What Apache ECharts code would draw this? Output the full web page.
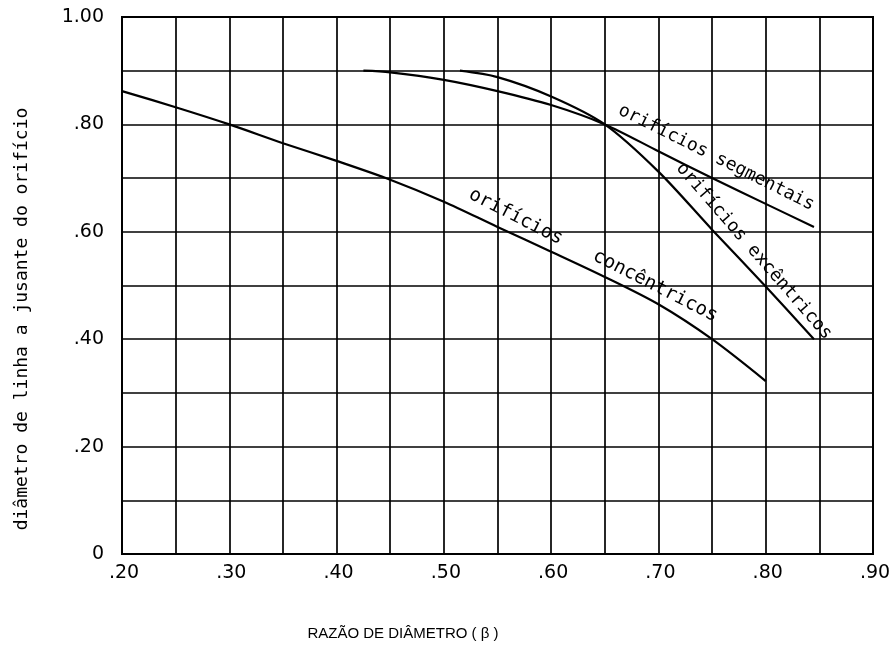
<!DOCTYPE html>
<html>
<head>
<meta charset="utf-8">
<script src="https://cdn.jsdelivr.net/npm/echarts@6/dist/echarts.min.js"></script>
<style>html,body{margin:0;padding:0;background:#fff;}#c{width:893px;height:648px;}</style>
</head>
<body>
<div id="c"></div>
<script>
// ---- data ----
const xTickLabels = ['.20', '.30', '.40', '.50', '.60', '.70', '.80', '.90'];
const yTickLabels = ['0', '.20', '.40', '.60', '.80', '1.00'];
const xAxisTitle = 'RAZÃO DE DIÂMETRO ( β )';
const yAxisTitle = 'diâmetro de linha a jusante do orifício';

const concentricBeta = [0.20, 0.25, 0.30, 0.35, 0.40, 0.45, 0.50, 0.55, 0.60, 0.65, 0.70, 0.75, 0.80];
const concentricVal  = [0.862, 0.832, 0.800, 0.765, 0.732, 0.697, 0.656, 0.609, 0.563, 0.516, 0.465, 0.400, 0.322];

const segmentalBeta = [0.425, 0.45, 0.50, 0.55, 0.60, 0.65, 0.70, 0.75, 0.80, 0.845];
const segmentalVal  = [0.900, 0.897, 0.883, 0.862, 0.836, 0.800, 0.750, 0.700, 0.652, 0.609];

const eccentricBeta = [0.515, 0.55, 0.60, 0.65, 0.70, 0.75, 0.80, 0.845];
const eccentricVal  = [0.900, 0.888, 0.852, 0.800, 0.712, 0.604, 0.498, 0.400];

const curveLabels = {
  segmental: ['orifícios segmentais'],
  eccentric: ['orifícios excêntricos'],
  concentric: ['orifícios', 'concêntricos']
};

// ---- chart ----
const zip = (a, b) => a.map((x, i) => [x, b[i]]);
const chart = echarts.init(document.getElementById('c'), null, {renderer: 'canvas'});
const tickFont = {color: '#000', fontFamily: 'DejaVu Sans', fontSize: 19};
const curveLabelStyle = (rot, size) => ({
  show: true, position: 'inside', formatter: '{b}', rotate: rot,
  color: '#000', fontFamily: 'DejaVu Sans Mono', fontSize: size || 18
});
const lineSeries = (name, data) => ({
  name, type: 'line', data, showSymbol: false, smooth: 0.3,
  lineStyle: {color: '#000', width: 2.2}, z: 3
});

const sSeg = lineSeries('segmentais', zip(segmentalBeta, segmentalVal));
sSeg.markPoint = {symbolSize: 0, data: [
  {name: curveLabels.segmental[0], coord: [0.754, 0.738], label: curveLabelStyle(-26.5)}
]};
const sEcc = lineSeries('excêntricos', zip(eccentricBeta, eccentricVal));
sEcc.markPoint = {symbolSize: 0, data: [
  {name: curveLabels.eccentric[0], coord: [0.789, 0.564], label: curveLabelStyle(-49)}
]};
const sCon = lineSeries('concêntricos', zip(concentricBeta, concentricVal));
sCon.markPoint = {symbolSize: 0, data: [
  {name: curveLabels.concentric[0], coord: [0.567, 0.628], label: curveLabelStyle(-27, 19)},
  {name: curveLabels.concentric[1], coord: [0.697, 0.499], label: curveLabelStyle(-27, 19)}
]};

chart.setOption({
  animation: false,
  backgroundColor: '#fff',
  grid: {left: 122, right: 20, top: 17, bottom: 94, show: true, borderColor: '#000', borderWidth: 2,
    containLabel: false, outerBoundsMode: 'none'},
  xAxis: {
    type: 'value', min: 0.2, max: 0.9, interval: 0.05,
    axisLine: {show: true, lineStyle: {color: '#000', width: 2}},
    axisTick: {show: false},
    splitLine: {show: true, lineStyle: {color: '#000', width: 1.7}},
    axisLabel: Object.assign({margin: 10, padding: [0, 0, 0, 4], formatter: v => {
      const k = Math.round(v * 100);
      return k % 10 === 0 ? xTickLabels[(k - 20) / 10] : '';
    }}, tickFont)
  },
  yAxis: {
    type: 'value', min: 0, max: 1, interval: 0.1,
    axisLine: {show: true, lineStyle: {color: '#000', width: 2}},
    axisTick: {show: false},
    splitLine: {show: true, lineStyle: {color: '#000', width: 1.7}},
    axisLabel: Object.assign({margin: 18, formatter: v => {
      const k = Math.round(v * 100);
      return k % 20 === 0 ? yTickLabels[k / 20] : '';
    }}, tickFont)
  },
  graphic: [
    {type: 'text', x: 403, y: 634, style: {text: xAxisTitle, textAlign: 'center', textVerticalAlign: 'middle',
      fill: '#000', font: '15px "Liberation Sans"'}},
    {type: 'text', x: 22, y: 319, rotation: Math.PI / 2, style: {text: yAxisTitle, textAlign: 'center',
      textVerticalAlign: 'middle', fill: '#000', font: '18px "DejaVu Sans Mono"'}}
  ],
  series: [sCon, sSeg, sEcc]
});
</script>
</body>
</html>
